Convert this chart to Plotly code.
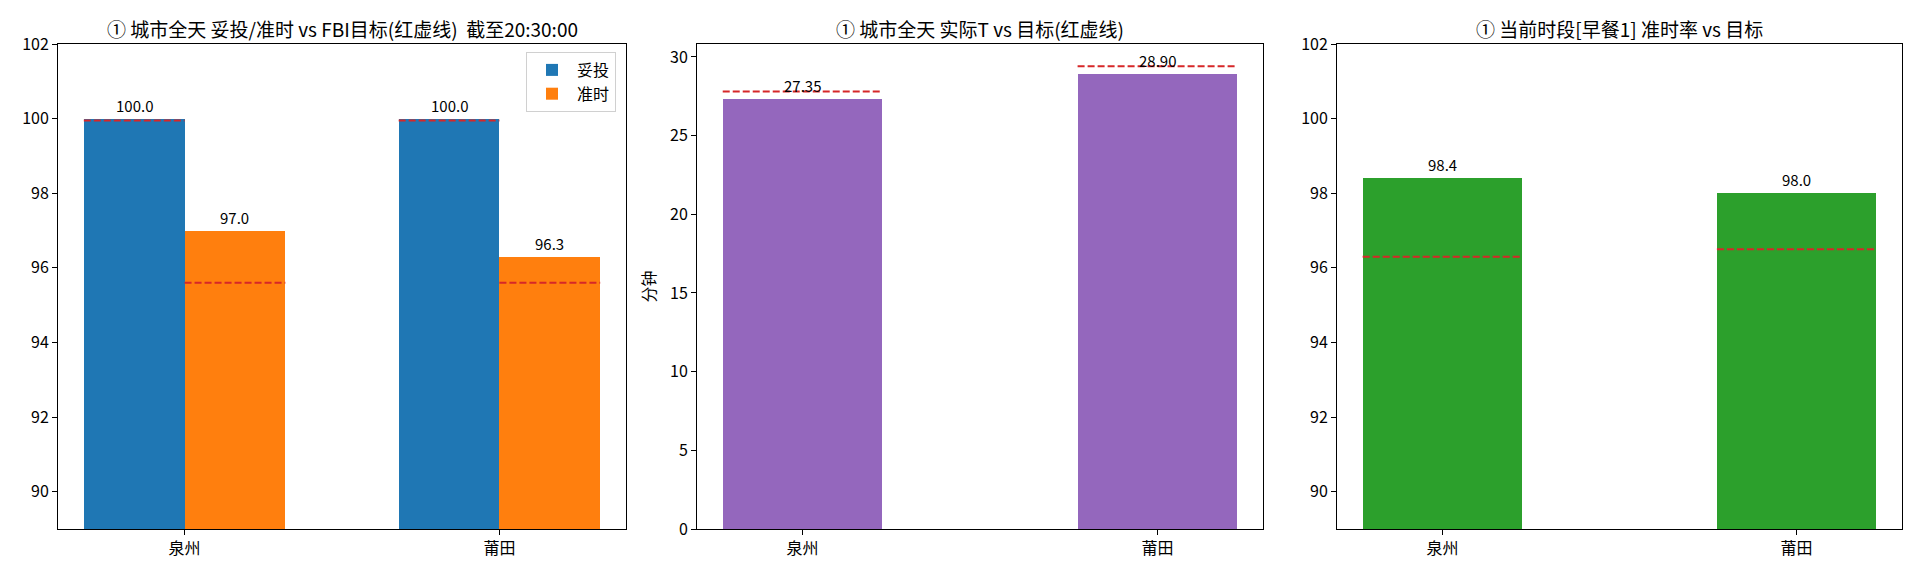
import plotly.graph_objects as go

# values
cities = ["泉州", "莆田"]
deliver_rate = [100.0, 100.0]
ontime_rate = [97.0, 96.3]
deliver_target = [99.95, 99.95]
ontime_target = [95.6, 95.6]
actual_t = [27.35, 28.90]
target_t = [27.8, 29.4]
slot_ontime = [98.4, 98.0]
slot_target = [96.3, 96.5]

FONT = "Noto Sans CJK SC"
BLUE, ORANGE, PURPLE, GREEN, RED = "#1f77b4", "#ff7f0e", "#9467bd", "#2ca02c", "#d62728"
W = 1920
H = 576

idx = list(range(len(cities)))
fig = go.Figure()


def target_line(xs, w, ys, xaxis, yaxis):
    # one dashed segment per bar, spanning the bar width
    lx, ly = [], []
    for x, y in zip(xs, ys):
        lx += [x - w / 2, x + w / 2, None]
        ly += [y, y, None]
    fig.add_trace(go.Scatter(x=lx, y=ly, mode="lines", xaxis=xaxis, yaxis=yaxis,
                             line=dict(color=RED, width=2, dash="7px,3px"),
                             showlegend=False, hoverinfo="skip"))


def labels(xs, ys, fmt, xaxis, yaxis):
    for x, y in zip(xs, ys):
        fig.add_annotation(x=x, y=y, xref=xaxis, yref=yaxis, text=fmt.format(y),
                           showarrow=False, xanchor="center", yanchor="bottom", yshift=1,
                           font=dict(size=15, color="black"))


# panel 1: grouped bars
bw1 = 0.32
x_del = [i - bw1 / 2 for i in idx]
x_on = [i + bw1 / 2 for i in idx]
fig.add_trace(go.Bar(x=x_del, y=deliver_rate, width=bw1, name="妥投", marker_color=BLUE,
                     marker_line_width=0, xaxis="x", yaxis="y"))
fig.add_trace(go.Bar(x=x_on, y=ontime_rate, width=bw1, name="准时", marker_color=ORANGE,
                     marker_line_width=0, xaxis="x", yaxis="y"))
target_line(x_del, bw1, deliver_target, "x", "y")
target_line(x_on, bw1, ontime_target, "x", "y")
labels(x_del, deliver_rate, "{:.1f}", "x", "y")
labels(x_on, ontime_rate, "{:.1f}", "x", "y")

# panel 2: actual T
bw2 = 0.45
fig.add_trace(go.Bar(x=idx, y=actual_t, width=bw2, marker_color=PURPLE, marker_line_width=0,
                     showlegend=False, xaxis="x2", yaxis="y2"))
target_line(idx, bw2, target_t, "x2", "y2")
labels(idx, actual_t, "{:.2f}", "x2", "y2")

# panel 3: current slot on-time rate
fig.add_trace(go.Bar(x=idx, y=slot_ontime, width=bw2, marker_color=GREEN, marker_line_width=0,
                     showlegend=False, xaxis="x3", yaxis="y3"))
target_line(idx, bw2, slot_target, "x3", "y3")
labels(idx, slot_ontime, "{:.1f}", "x3", "y3")


def xrange(w):
    lo, hi = idx[0] - w, idx[-1] + w
    pad = 0.05 * (hi - lo)
    return [lo - pad, hi + pad]


ax = dict(showline=True, linecolor="black", linewidth=1, mirror=True, ticks="outside",
          ticklen=5, tickcolor="black", showgrid=False, zeroline=False,
          tickfont=dict(size=16, color="black"))
ytop, ybot = 1 - 44 / H, 1 - 529 / H
doms = [(58 / W, 626 / W), (697 / W, 1263 / W), (1337 / W, 1902 / W)]

fig.update_layout(
    width=W, height=H, margin=dict(l=0, r=0, t=0, b=0, autoexpand=False),
    plot_bgcolor="white", paper_bgcolor="white",
    font=dict(family=FONT, size=16, color="black"),
    bargap=0,
    xaxis=dict(ax, domain=doms[0], range=xrange(bw1), tickvals=idx, ticktext=cities, anchor="y"),
    yaxis=dict(ax, domain=[ybot, ytop], range=[89, 102], dtick=2, anchor="x"),
    xaxis2=dict(ax, domain=doms[1], range=xrange(bw2 / 2), tickvals=idx, ticktext=cities, anchor="y2"),
    yaxis2=dict(ax, domain=[ybot, ytop], range=[0, 30.82], dtick=5, anchor="x2",
                title=dict(text="分钟", font=dict(size=16), standoff=10)),
    xaxis3=dict(ax, domain=doms[2], range=xrange(bw2 / 2), tickvals=idx, ticktext=cities, anchor="y3"),
    yaxis3=dict(ax, domain=[ybot, ytop], range=[89, 102], dtick=2, anchor="x3"),
    legend=dict(x=616 / W, y=1 - 52 / H, xanchor="right", yanchor="top",
                bgcolor="rgba(255,255,255,0.8)", bordercolor="#d0d0d0", borderwidth=1,
                font=dict(size=16), itemwidth=40),
)

titles = ["① 城市全天 妥投/准时 vs FBI目标(红虚线)\u00a0\u00a0截至20:30:00",
          "① 城市全天 实际T vs 目标(红虚线)",
          "① 当前时段[早餐1] 准时率 vs 目标"]
for (a, b), t in zip(doms, titles):
    fig.add_annotation(x=(a + b) / 2, y=1 - 28 / H, xref="paper", yref="paper", text=t,
                       showarrow=False, xanchor="center", yanchor="middle",
                       font=dict(size=19, color="black"))

fig.write_html("out.html", config={"displayModeBar": False},
               post_script="document.body.style.margin='0';")
